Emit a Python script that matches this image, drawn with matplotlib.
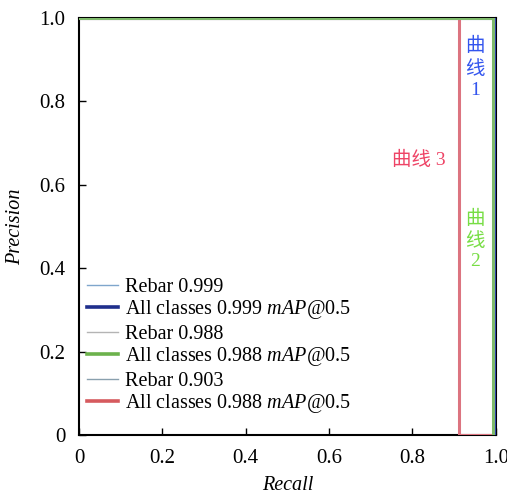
import matplotlib
matplotlib.use('Agg')
import matplotlib.pyplot as plt

# --- data ---
curve1_recall = [0, 0.999, 0.999]
curve1_precision = [1.0, 1.0, 0.0]
curve2_recall = [0, 0.993, 0.993]
curve2_precision = [1.0, 1.0, 0.0]
curve3_recall = [0, 0.911, 0.911, 0.993]
curve3_precision = [1.0, 1.0, 0.0, 0.0]

rebar_labels = ['Rebar 0.999', 'Rebar 0.988', 'Rebar 0.903']
all_labels = ['All classes 0.999 $mAP$@0.5',
              'All classes 0.988 $mAP$@0.5',
              'All classes 0.988 $mAP$@0.5']
curve_names = ['曲\n线\n1', '曲\n线\n2', '曲线 3']

ticks = [0, 0.2, 0.4, 0.6, 0.8, 1.0]
tick_labels = ['0', '0.2', '0.4', '0.6', '0.8', '1.0']

plt.rcParams['font.family'] = ['Liberation Serif', 'Noto Sans CJK SC']
plt.rcParams['mathtext.fontset'] = 'custom'
plt.rcParams['mathtext.it'] = 'Liberation Serif:italic'
plt.rcParams['mathtext.rm'] = 'Liberation Serif'

fig = plt.figure(figsize=(5.07, 4.99), dpi=100)
ax = fig.add_axes([0.156, 0.128, 0.822, 0.836])

rebar_colors = ['#7fa6cc', '#b4b4b4', '#8aa0ae']
all_colors = ['#1f2f8c', '#6cb24c', '#d65a5e']
curve_colors = ['#2e3fb0', '#7fba6c', '#dc7480']

curves = [(curve1_recall, curve1_precision),
          (curve2_recall, curve2_precision),
          (curve3_recall, curve3_precision)]

groups = []
for i, (r, p) in enumerate(curves):
    h1, = ax.plot(r, p, color=rebar_colors[i], lw=1.0, label=rebar_labels[i],
                  zorder=2)
    h2, = ax.plot(r, p, color=curve_colors[i], lw=2.2, label=all_labels[i],
                  zorder=3 + (i == 1))
    groups.append((h1, h2))

# three separate legend blocks, one per model
leg_y = [0.326, 0.213, 0.099]
for i, (h1, h2) in enumerate(groups):
    h2_proxy = plt.Line2D([], [], color=all_colors[i], lw=2.6)
    leg = ax.legend([h1, h2_proxy], [rebar_labels[i], all_labels[i]],
                    loc='center left', bbox_to_anchor=(0.02, leg_y[i]),
                    frameon=False, fontsize=14.5, handlelength=1.5,
                    handletextpad=0.35, labelspacing=0.05, borderpad=0,
                    borderaxespad=0)
    if i < len(groups) - 1:
        ax.add_artist(leg)

# curve annotations
ax.text(0.95, 0.88, curve_names[0], color='#3355ee', fontsize=14,
        ha='center', va='center', linespacing=1.35)
ax.text(0.95, 0.468, curve_names[1], color='#77dd44', fontsize=14,
        ha='center', va='center', linespacing=1.3)
ax.text(0.815, 0.66, curve_names[2], color='#ee4466', fontsize=14,
        ha='center', va='center')

ax.set_xlim(0, 1.0)
ax.set_ylim(0, 1.0)
ax.set_xticks(ticks)
ax.set_xticklabels(tick_labels)
ax.set_yticks(ticks)
ax.set_yticklabels(tick_labels)
ax.tick_params(direction='in', length=5, width=1, labelsize=15, pad=10)
for s in ax.spines.values():
    s.set_linewidth(1.5)

ax.set_xlabel('Recall', fontstyle='italic', fontsize=14.5, labelpad=6)
ax.set_ylabel('Precision', fontstyle='italic', fontsize=14.5, labelpad=10)

fig.savefig('out.png', dpi=100)
